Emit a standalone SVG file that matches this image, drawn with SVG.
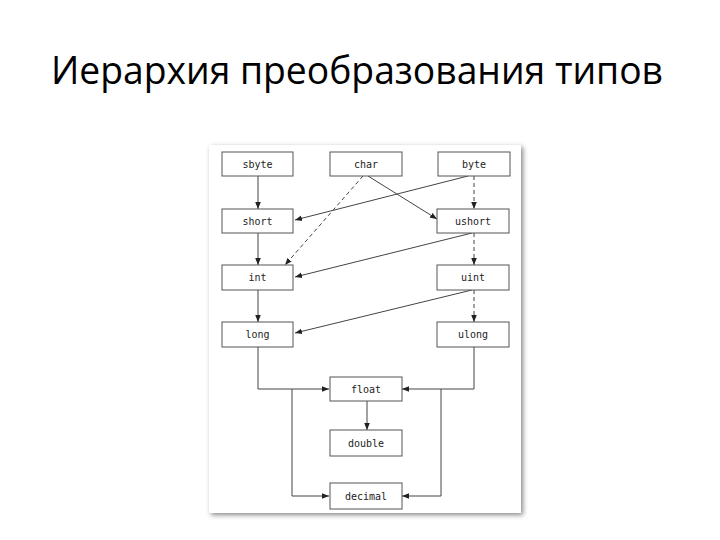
<svg xmlns="http://www.w3.org/2000/svg" width="720" height="540" viewBox="0 0 720 540">
<defs>
<marker id="ah" viewBox="0 0 10 10" refX="10" refY="5" markerWidth="7" markerHeight="7" orient="auto" markerUnits="userSpaceOnUse">
<path d="M0,1 L10,5 L0,9 z" fill="#222"/>
</marker>
<filter id="sh" x="-5%" y="-5%" width="110%" height="110%">
<feGaussianBlur stdDeviation="2.5"/>
</filter>
<style>
.box rect{fill:#fff;stroke:#555;stroke-width:1}
.box text{font-family:"DejaVu Sans Mono","Liberation Mono",monospace;font-size:10px;fill:#222;text-anchor:middle}
.c{fill:none;stroke:#444;stroke-width:1;marker-end:url(#ah)}
.d{stroke-dasharray:4,3}
.n{fill:none;stroke:#444;stroke-width:1}
</style>
</defs>
<rect width="720" height="540" fill="#fff"/>
<text x="357" y="84" font-family="'Open Sans','Noto Sans',sans-serif" font-size="38" text-anchor="middle" textLength="612" lengthAdjust="spacingAndGlyphs" fill="#000">Иерархия преобразования типов</text>
<rect x="211" y="147" width="312" height="368" fill="#888" filter="url(#sh)"/>
<rect x="209" y="145" width="312" height="368" fill="#fff"/>
<g id="connectors">
<path class="c" d="M258,176 L258,209"/>
<path class="c" d="M258,233 L258,265"/>
<path class="c" d="M258,290 L258,322"/>
<path class="c" d="M368,176 L437,219"/>
<path class="c d" d="M363,176 L285,265"/>
<path class="c" d="M468,176 L295,220"/>
<path class="c d" d="M474,176 L474,209"/>
<path class="c" d="M472,233 L295,277"/>
<path class="c d" d="M474,233 L474,265"/>
<path class="c" d="M472,290 L295,333"/>
<path class="c d" d="M474,290 L474,322"/>
<path class="c" d="M258,347 L258,389 L329,389"/>
<path class="c" d="M474,347 L474,389 L402,389"/>
<path class="c" d="M367,401 L367,430"/>
<path class="c" d="M292,389 L292,496 L329,496"/>
<path class="c" d="M441,389 L441,496 L402,496"/>
</g>
<g id="sbyte" class="box"><rect x="222" y="152" width="71" height="24"/><text x="257.5" y="167.5">sbyte</text></g>
<g id="char" class="box"><rect x="330" y="152" width="72" height="24"/><text x="366" y="167.5">char</text></g>
<g id="byte" class="box"><rect x="438" y="152" width="72" height="24"/><text x="474" y="167.5">byte</text></g>
<g id="short" class="box"><rect x="222" y="209" width="71" height="24"/><text x="257.5" y="224.5">short</text></g>
<g id="ushort" class="box"><rect x="437" y="209" width="72" height="24"/><text x="473" y="224.5">ushort</text></g>
<g id="int" class="box"><rect x="222" y="265" width="71" height="25"/><text x="257.5" y="281">int</text></g>
<g id="uint" class="box"><rect x="437" y="265" width="72" height="25"/><text x="473" y="281">uint</text></g>
<g id="long" class="box"><rect x="222" y="322" width="71" height="25"/><text x="257.5" y="338">long</text></g>
<g id="ulong" class="box"><rect x="437" y="322" width="72" height="25"/><text x="473" y="338">ulong</text></g>
<g id="float" class="box"><rect x="330" y="377" width="72" height="24"/><text x="366" y="392.5">float</text></g>
<g id="double" class="box"><rect x="330" y="430" width="72" height="26"/><text x="366" y="446.5">double</text></g>
<g id="decimal" class="box"><rect x="330" y="483" width="72" height="26"/><text x="366" y="499.5">decimal</text></g>
</svg>
